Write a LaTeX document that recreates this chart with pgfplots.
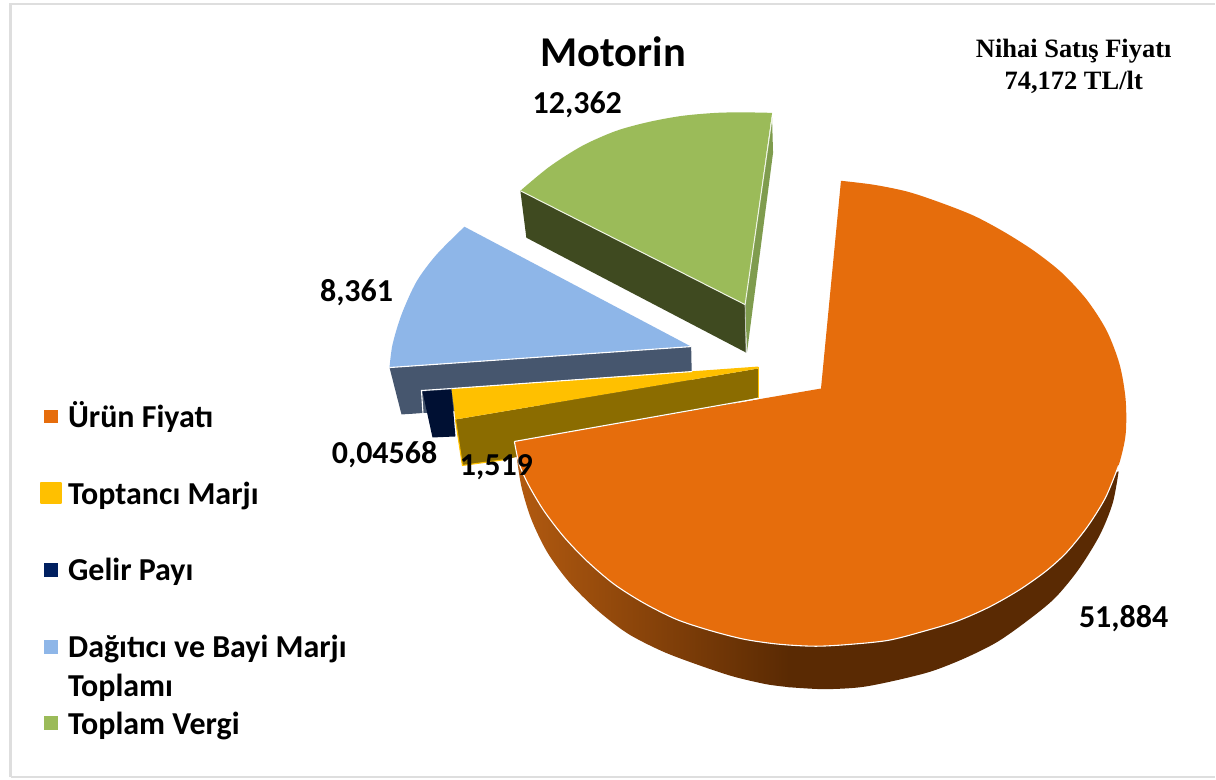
\documentclass[border=0pt]{standalone}
\usepackage{pgfplots}
\pgfplotsset{compat=1.18}
\usepackage{fontspec}
\setmainfont{Carlito}
\newfontfamily\timesf{Liberation Serif}
\definecolor{orT}{HTML}{E66D0C}
\definecolor{orD}{HTML}{5A2A03}
\definecolor{orM}{HTML}{B25A10}
\definecolor{ylT}{HTML}{FFC000}
\definecolor{ylD}{HTML}{8B6C00}
\definecolor{nvL}{HTML}{002060}
\definecolor{nvD}{HTML}{001033}
\definecolor{blT}{HTML}{8EB6E8}
\definecolor{blD}{HTML}{46566E}
\definecolor{grT}{HTML}{9BBB59}
\definecolor{grD}{HTML}{3F4A20}
\definecolor{grS}{HTML}{7F9C4E}
\definecolor{frm}{HTML}{DEDEDE}
\newcommand{\lab}[1]{{\fontsize{32}{35}\selectfont\bfseries #1}}
\newcommand{\leg}[1]{{\fontsize{32}{35}\selectfont\bfseries #1}}
\begin{document}
\begin{tikzpicture}
\begin{axis}[
  scale only axis, width=1216pt, height=780pt,
  xmin=0, xmax=1216, ymin=0, ymax=780, y dir=reverse,
  hide axis, clip=false,
  every axis plot/.append style={mark=none},
]
% page
\addplot[fill=white, draw=none] coordinates {(0,0) (1216,0) (1216,780) (0,780)} -- cycle;
% frame
\addplot[draw=frm, line width=3pt] coordinates {(11,778) (11,4) (1216,4)};
\addplot[draw=frm, line width=2pt] coordinates {(11,778) (1216,778)};
% green
\addplot[fill=grS, draw=none] coordinates {(773,118) (774,153) (748,352) (746,305)} -- cycle;
\addplot[fill=grD, draw=none] coordinates {(521,191) (746,305) (747,353) (527,238)} -- cycle;
\addplot[fill=grT, draw=none, smooth] coordinates {(521,191) (550,167) (583,146) (617,131) (650,122) (683,116) (717,113) (745,112.5) (773,113)} -- (axis cs:746,305) -- cycle;
\addplot[draw=white!85!grT, line width=1pt] coordinates {(521,191) (746,305) (773,118)};
\addplot[draw=white!70!grD, line width=0.8pt] coordinates {(746,305) (747,353)};
% blue
\addplot[fill=blD, draw=none] coordinates {(390,368) (692,347) (693,395) (402,415)} -- cycle;
\addplot[fill=blT, draw=none, smooth] coordinates {(465,227) (437,255) (417,282) (402,315) (393,345) (390,368)} -- (axis cs:692,347) -- cycle;
\addplot[draw=white, line width=1.1pt] coordinates {(390,368) (692,347)};
% navy
\addplot[fill=white, draw=none] coordinates {(402,415.5) (424,414) (433,438.5) (456,438) (463,468) (402,468)} -- cycle;
\addplot[draw=white, line width=1.1pt] coordinates {(425,437) (422,391) (452,389)};
\addplot[fill=nvD, draw=none] coordinates {(423,392) (452,390) (456,437) (433,438)} -- cycle;
% yellow
\addplot[fill=ylD, draw=none] coordinates {(456,420) (759,369) (759,398) (507,460) (463,466)} -- cycle;
\addplot[fill=ylT, draw=none] coordinates {(452,389) (759,367) (759,369) (456,420)} -- cycle;
\addplot[draw=white, line width=1.1pt] coordinates {(452,389) (693,372)};
\addplot[draw=ylT, line width=1.1pt] coordinates {(456,420) (463,466) (507,460)};
\addplot[draw=ylT, line width=1.1pt] coordinates {(759,367) (759,398)};
% orange side
\addplot[left color=orM, right color=orD, draw=none, smooth] coordinates {(517,455) (522,487) (532,520) (548,553) (570,583) (597,610) (628,634) (663,652) (697,665) (733,677) (767,685) (790,688)} -- (axis cs:790,600) -- (axis cs:560,480) -- cycle;
\addplot[fill=orD, draw=none, smooth] coordinates {(789,688) (825,690) (862,688) (898,681) (933,672) (966,659) (998,643) (1028,622) (1056,599) (1080,570) (1101,536) (1114,504) (1120,472)} -- (axis cs:1080,480) -- (axis cs:789,600) -- cycle;
% orange top
\addplot[fill=orT, draw=none, smooth] coordinates {(842,181) (875,185) (909,192) (942,203) (975,216) (1005,232) (1035,251) (1063,273) (1088,300) (1108,331) (1121,365) (1127,400) (1127,435) (1120,466) (1107,498) (1089,527) (1068,553) (1047,572) (1020,591) (990,608) (958,622) (925,632) (890,641) (853,645) (817,647) (780,645) (745,640) (710,631) (677,620) (645,604) (615,585) (588,562) (565,538) (545,512) (530,487) (520,465) (515,442)} -- (axis cs:822,389) -- cycle;
\addplot[draw=white, line width=1.1pt, smooth] coordinates {(515,442) (520,465) (530,487) (545,512) (565,538) (588,562) (615,585) (645,604) (677,620) (710,631) (745,640) (780,645) (817,647) (853,645) (890,641) (925,632) (958,622) (990,608) (1020,591) (1047,572) (1068,553) (1089,527) (1107,498) (1120,466)};
\addplot[draw=white, line width=1.1pt] coordinates {(515,442) (759,399)};
% legend markers
\addplot[only marks, mark=square*, mark size=6.5pt, mark options={draw=orT, fill=orT, line width=0pt}] coordinates {(51,417)};
\addplot[only marks, mark=square*, mark size=10pt, mark options={draw=ylT, fill=ylT, line join=round, line width=1.5pt}] coordinates {(51,493.5)};
\addplot[only marks, mark=square*, mark size=6.5pt, mark options={draw=nvL, fill=nvL, line width=0pt}] coordinates {(51,570.5)};
\addplot[only marks, mark=square*, mark size=6.5pt, mark options={draw=blT, fill=blT, line width=0pt}] coordinates {(51,647.5)};
\addplot[only marks, mark=square*, mark size=6.5pt, mark options={draw=grT, fill=grT, line width=0pt}] coordinates {(51,724)};
% text
\node at (axis cs:614,52) {\fontsize{42.5}{46}\selectfont\bfseries Motorin};
\node[font=\timesf] at (axis cs:1075,51) {\fontsize{26.5}{32}\selectfont\bfseries Nihai Satış Fiyatı};
\node[font=\timesf] at (axis cs:1075,82) {\fontsize{26.5}{32}\selectfont\bfseries 74,172 TL/lt};
\node at (axis cs:578,105) {\lab{12,362}};
\node at (axis cs:357,293) {\lab{8,361}};
\node at (axis cs:385,455) {\lab{0,04568}};
\node at (axis cs:497,468) {\lab{1,519}};
\node at (axis cs:1125,619) {\lab{51,884}};
\node[anchor=base west, inner sep=0pt] at (axis cs:68,428) {\leg{Ürün Fiyatı}};
\node[anchor=base west, inner sep=0pt] at (axis cs:68,505) {\leg{Toptancı Marjı}};
\node[anchor=base west, inner sep=0pt] at (axis cs:68,581) {\leg{Gelir Payı}};
\node[anchor=base west, inner sep=0pt] at (axis cs:68,658) {\leg{Dağıtıcı ve Bayi Marjı}};
\node[anchor=base west, inner sep=0pt] at (axis cs:68,697) {\leg{Toplamı}};
\node[anchor=base west, inner sep=0pt] at (axis cs:68,735) {\leg{Toplam Vergi}};
\end{axis}
\end{tikzpicture}
\end{document}
